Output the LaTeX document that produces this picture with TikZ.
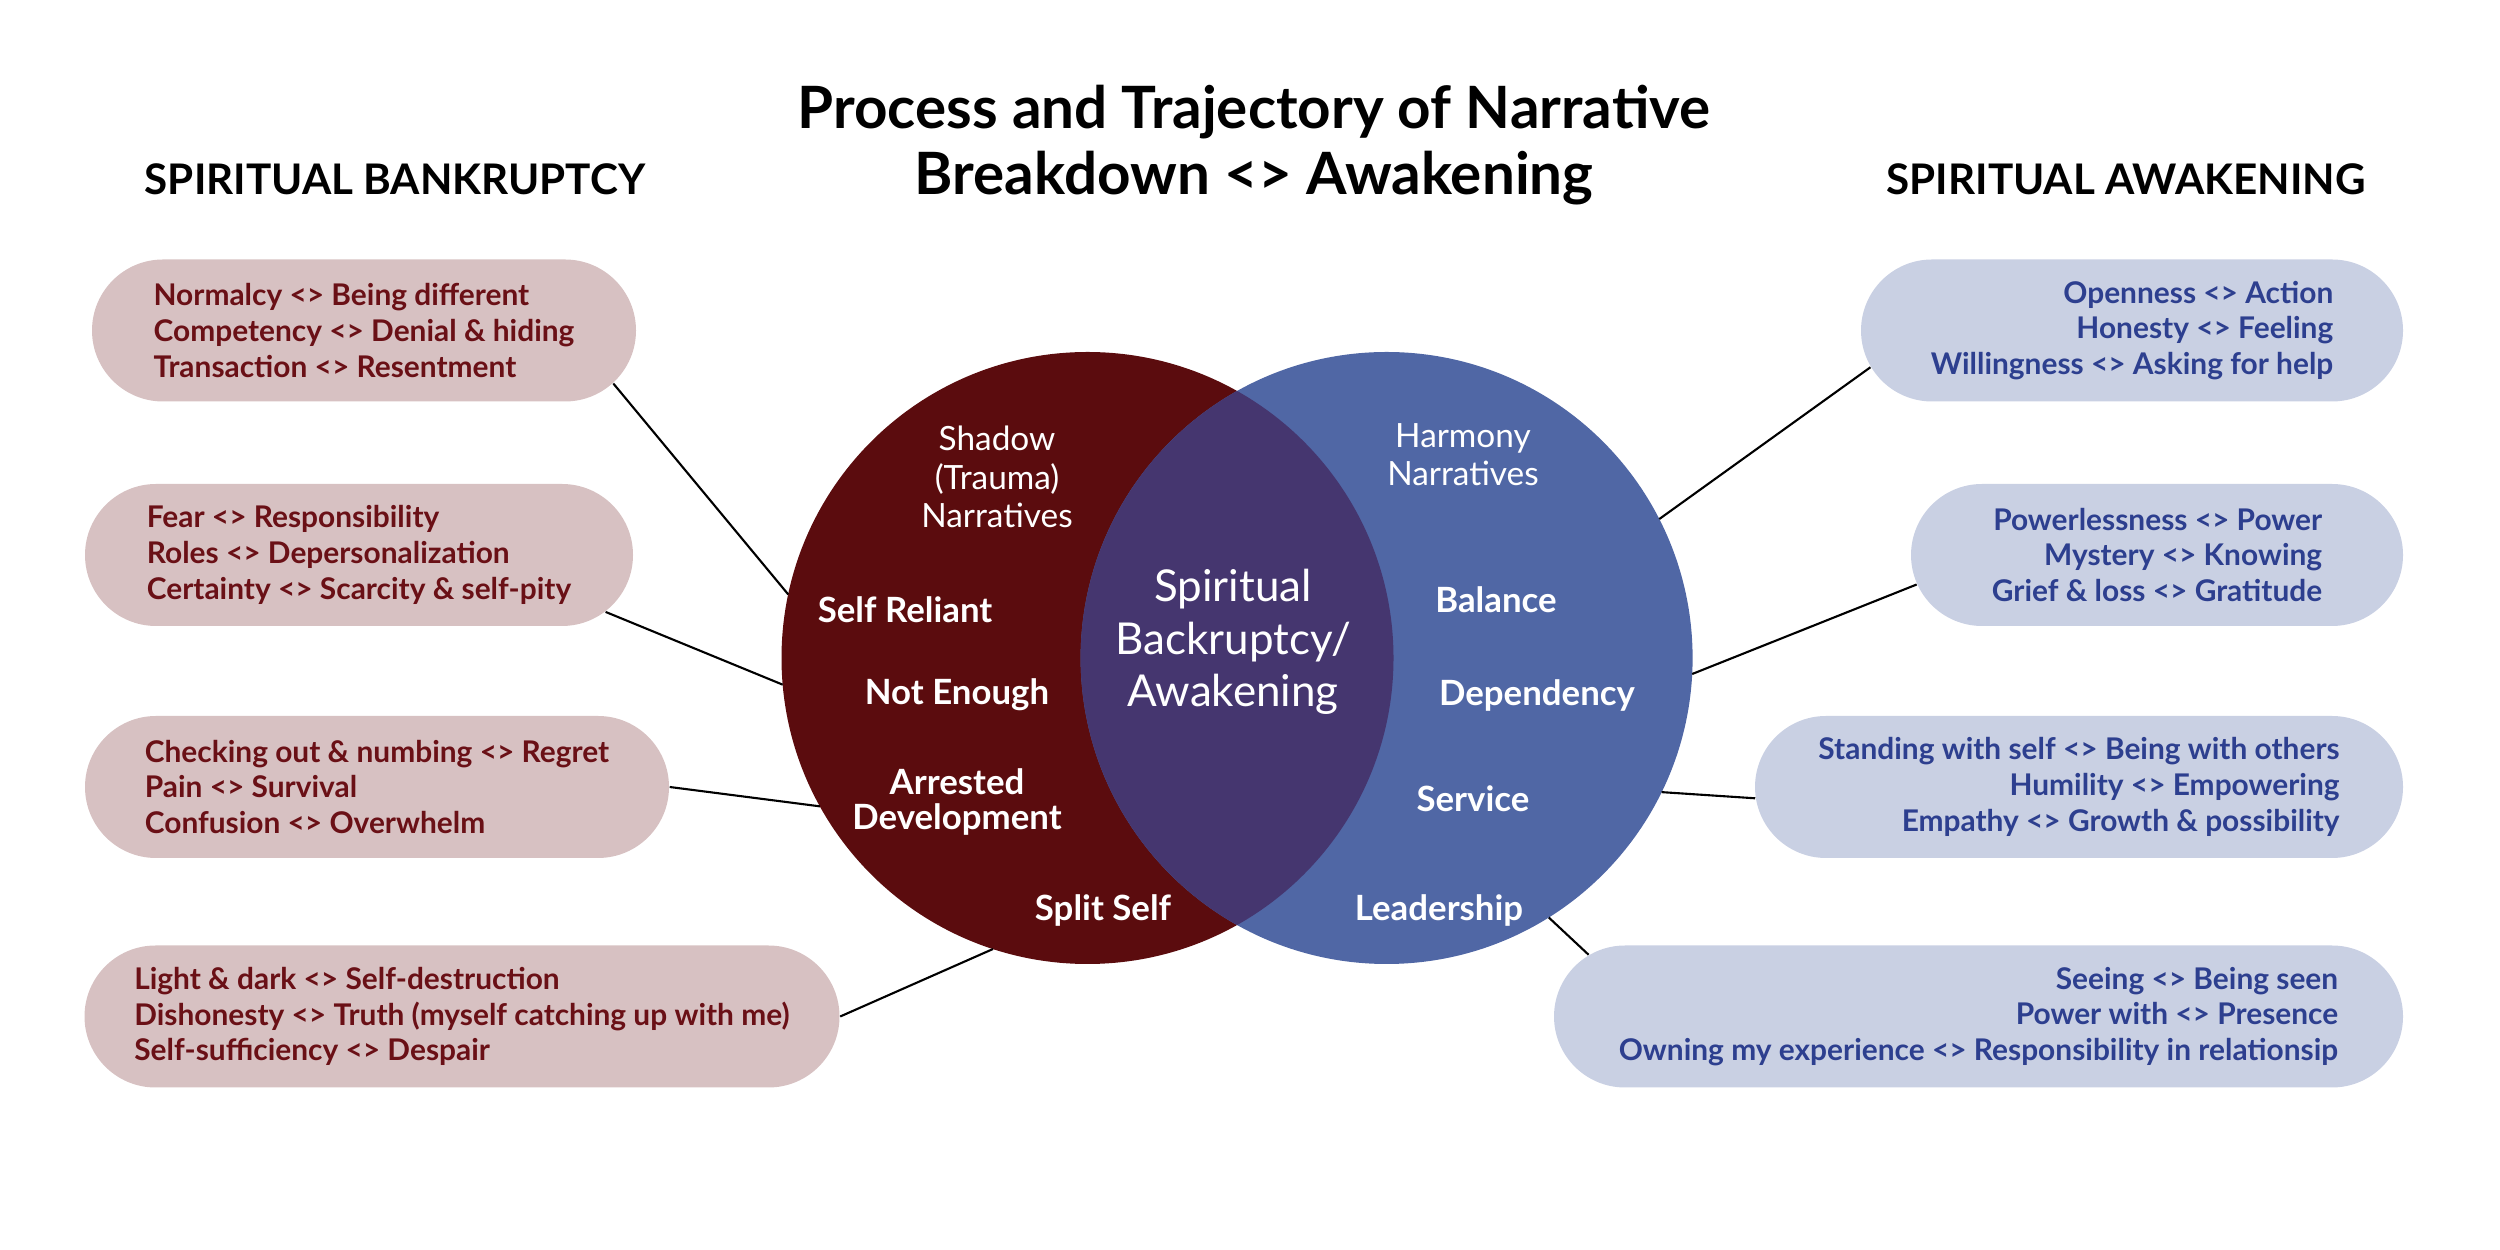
\documentclass[tikz,border=0pt]{standalone}
\usepackage{fontspec}
\setmainfont{Lato}
\usetikzlibrary{shapes.misc}
\definecolor{shadowred}{HTML}{5B0C0E}
\definecolor{harmonyblue}{HTML}{5067A5}
\definecolor{overlap}{HTML}{45366F}
\definecolor{redbox}{HTML}{D7C1C2}
\definecolor{redtext}{HTML}{6A1016}
\definecolor{bluebox}{HTML}{C9D0E3}
\definecolor{bluetext}{HTML}{2D3F8F}
\begin{document}
\begin{tikzpicture}
  [every node/.style={inner sep=0},
   pill/.style={rounded rectangle,minimum height=1.42cm,inner xsep=-0.3cm,inner ysep=0,font=\bfseries\fontsize{8.5}{10.2}\selectfont},
   redpill/.style={pill,fill=redbox,text=redtext,align=left},
   bluepill/.style={pill,fill=bluebox,text=bluetext,align=right},
   ring/.style={circle,minimum size=6.12cm,outer sep=0},
   tag/.style={text=white,font=\bfseries\fontsize{9.9}{10}\selectfont,align=center},
   plain/.style={text=white,font=\fontsize{9.5}{10.9}\selectfont,align=center}]
  \useasboundingbox (0,0) rectangle (25,12.5);

  \node[font=\bfseries\fontsize{16.6}{18.8}\selectfont,align=center] (title) at (12.54,11.05) {Process and Trajectory of Narrative\\Breakdown <> Awakening};
  \node[font=\bfseries\fontsize{12}{14}\selectfont] (bankrupt) at (3.95,10.71) {SPIRITUAL BANKRUPTCY};
  \node[font=\bfseries\fontsize{12}{14}\selectfont] (awake) at (21.26,10.71) {SPIRITUAL AWAKENING};

  \node[ring,fill=shadowred] (sh) at (10.875,5.92) {};
  \node[ring,fill=harmonyblue] (hm) at (13.866,5.92) {};
  \begin{scope}
    \clip (sh.center) circle (3.06cm);
    \fill[overlap] (hm.center) circle (3.06cm);
  \end{scope}

  \node[plain] (shadow) at (9.97,7.73) {Shadow\\(Trauma)\\Narratives};
  \node[tag] (reliant) at (9.05,6.40) {Self Reliant};
  \node[tag] (enough) at (9.57,5.55) {Not Enough};
  \node[tag] (arrested) at (9.57,4.48) {Arrested\\Development};
  \node[tag] (split) at (11.03,3.40) {Split Self};
  \node[text=white,font=\fontsize{12.5}{15}\selectfont,align=center] (core) at (12.33,6.08) {Spiritual\\Backruptcy/\\Awakening};
  \node[plain] (harmony) at (14.63,7.95) {Harmony\\Narratives};
  \node[tag] (balance) at (14.96,6.50) {Balance};
  \node[tag] (depend) at (15.37,5.55) {Dependency};
  \node[tag] (service) at (14.73,4.51) {Service};
  \node[tag] (lead) at (14.39,3.40) {Leadership};

  \node[redpill,minimum width=4.84cm] (l1) at (3.64,9.195) {Normalcy <> Being different\\Competency <> Denial \& hiding\\Transaction <> Resentment};
  \node[redpill,minimum width=4.88cm] (l2) at (3.59,6.95) {Fear <> Responsibility\\Roles <> Depersonalization\\Certainty <> Scarcity \& self-pity};
  \node[redpill,minimum width=5.24cm] (l3) at (3.77,4.63) {Checking out \& numbing <> Regret\\Pain <> Survival\\Confusion <> Overwhelm};
  \node[redpill,minimum width=6.95cm] (l4) at (4.62,2.335) {Light \& dark <> Self-destruction\\Dishonesty <> Truth (myself catching up with me)\\Self-sufficiency <> Despair};

  \node[bluepill,minimum width=4.82cm] (r1) at (21.32,9.195) {Openness <> Action\\Honesty <> Feeling\\Willingness <> Asking for help};
  \node[bluepill,minimum width=4.32cm] (r2) at (21.57,6.95) {Powerlessness <> Power\\Mystery <> Knowing\\Grief \& loss <> Gratitude};
  \node[bluepill,minimum width=5.88cm] (r3) at (20.79,4.63) {Standing with self <> Being with others\\Humility <> Empowering\\Empathy <> Growth \& possibility};
  \node[bluepill,minimum width=7.89cm] (r4) at (19.785,2.335) {Seeing <> Being seen\\Power with <> Presence\\Owning my experience <> Responsibility in relationsip};

  \foreach \from/\to in {l1.-12.3/sh.168.4,l2.-13.6/sh.185.4,l3.east/sh.209.3,l4.east/sh.252.5,r1.188.9/hm.27.4,r2.187.6/hm.-3.6,r3.182.6/hm.-26.4,r4.171.2/hm.-58.8}
    \draw[line width=0.6pt] (\from) -- (\to);

\end{tikzpicture}
\end{document}
